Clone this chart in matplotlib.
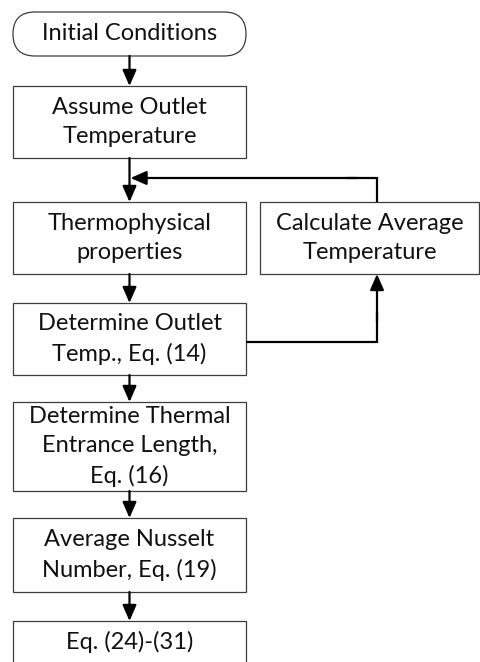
import matplotlib.pyplot as plt
from matplotlib.patches import FancyBboxPatch, Rectangle

# flowchart content
labels = ["Initial Conditions",
          "Assume Outlet\nTemperature",
          "Thermophysical\nproperties",
          "Determine Outlet\nTemp., Eq. (14)",
          "Determine Thermal\nEntrance Length,\nEq. (16)",
          "Average Nusselt\nNumber, Eq. (19)",
          "Eq. (24)-(31)"]
side_label = "Calculate Average\nTemperature"

# main column layout (pixels): top, bottom
tops = [12, 86, 202, 303, 402, 518, 621]
bottoms = [56, 158, 274, 375, 491, 592, 700]
x0, x1 = 13, 246
sx0, sx1 = 260, 479
loop_x, loop_y = 377, 178

fig = plt.figure(figsize=(4.8, 6.62), dpi=100)
ax = fig.add_axes([0, 0, 1, 1])
ax.set_xlim(0, 480)
ax.set_ylim(662, 0)
ax.axis("off")

edge = "#3c3c3c"
font = dict(family="Lato", fontsize=17, color="#111111", ha="center", va="center", linespacing=1.5)
cx = (x0 + x1) / 2

for i, lab in enumerate(labels):
    t, b = tops[i], bottoms[i]
    if i == 0:
        p = FancyBboxPatch((x0, t), x1 - x0, b - t, boxstyle="round,pad=0,rounding_size=22",
                           fc="white", ec=edge, lw=0.9)
    else:
        p = Rectangle((x0, t), x1 - x0, b - t, fc="white", ec=edge, lw=0.9)
    ax.add_patch(p)
    ty = (t + b) / 2 if i < len(labels) - 1 else 642
    ax.text(cx, ty, lab, **font)

# side box
ax.add_patch(Rectangle((sx0, tops[2]), sx1 - sx0, bottoms[2] - tops[2], fc="white", ec=edge, lw=0.9))
ax.text((sx0 + sx1) / 2, (tops[2] + bottoms[2]) / 2, side_label, **font)

arr = dict(arrowstyle="-|>,head_length=0.8,head_width=0.35", color="black", lw=1.6,
           shrinkA=0, shrinkB=0, mutation_scale=12)
line = dict(color="black", lw=1.6, solid_capstyle="butt", solid_joinstyle="miter")

# vertical arrows down the main column
for i in range(len(labels) - 1):
    ax.annotate("", xy=(cx, tops[i + 1]), xytext=(cx, bottoms[i]), arrowprops=arr)

# loop: Determine Outlet -> Calculate Average
mid = (tops[3] + bottoms[3]) / 2 + 3
ax.plot([x1, loop_x, loop_x], [mid, mid, mid - 30], **line)
ax.annotate("", xy=(loop_x, bottoms[2]), xytext=(loop_x, mid - 20), arrowprops=arr)

# loop: Calculate Average -> back into trunk
ax.plot([loop_x, loop_x, loop_x - 30], [tops[2], loop_y, loop_y], **line)
ax.annotate("", xy=(cx + 1, loop_y), xytext=(loop_x - 20, loop_y), arrowprops=arr)

fig.savefig("out.png", dpi=100)
